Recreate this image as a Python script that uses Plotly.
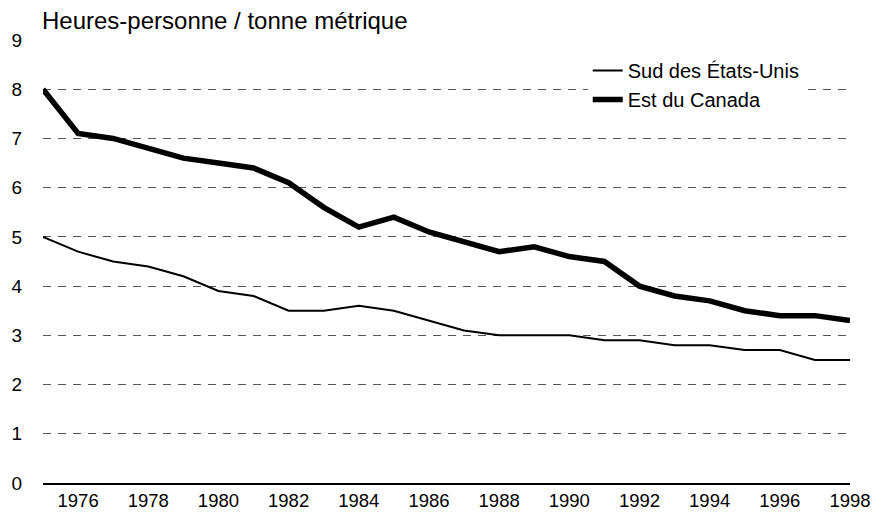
import plotly.graph_objects as go

years = list(range(1975, 1999))
sud_etats_unis = [5.0, 4.7, 4.5, 4.4, 4.2, 3.9, 3.8, 3.5, 3.5, 3.6, 3.5, 3.3,
                  3.1, 3.0, 3.0, 3.0, 2.9, 2.9, 2.8, 2.8, 2.7, 2.7, 2.5, 2.5]
est_canada = [8.0, 7.1, 7.0, 6.8, 6.6, 6.5, 6.4, 6.1, 5.6, 5.2, 5.4, 5.1,
              4.9, 4.7, 4.8, 4.6, 4.5, 4.0, 3.8, 3.7, 3.5, 3.4, 3.4, 3.3]
x_ticks = list(range(1976, 1999, 2))
y_ticks = list(range(0, 10))

font = "Liberation Sans, Arial, sans-serif"

fig = go.Figure()
fig.add_trace(go.Scatter(x=years, y=sud_etats_unis, mode="lines",
                         name="Sud des États-Unis",
                         line=dict(color="black", width=2)))
fig.add_trace(go.Scatter(x=years, y=est_canada, mode="lines",
                         name="Est du Canada",
                         line=dict(color="black", width=5.5)))

fig.update_layout(
    width=882, height=513,
    margin=dict(l=43, r=32, t=40, b=30, autoexpand=False),
    paper_bgcolor="white", plot_bgcolor="white",
    font=dict(family=font, size=19, color="black"),
    showlegend=True,
    legend=dict(x=0.675, y=0.975, xanchor="left", yanchor="top",
                bgcolor="white", borderwidth=0, itemwidth=30,
                font=dict(size=20), tracegroupgap=0),
)
fig.add_annotation(text="Heures-personne / tonne métrique",
                   xref="paper", yref="paper", x=0, y=1.044,
                   xanchor="left", yanchor="middle", showarrow=False,
                   xshift=-3, font=dict(size=24))

fig.update_xaxes(range=[1975, 1998], tickvals=x_ticks,
                 showgrid=False, zeroline=False, automargin=False,
                 showline=True, linecolor="black", linewidth=1.5,
                 ticks="", tickfont=dict(size=18.5))
fig.update_yaxes(range=[0, 9], tickvals=y_ticks, automargin=False,
                 showgrid=True, gridcolor="#555555", gridwidth=1,
                 griddash="8px,7px", zeroline=False, showline=False,
                 ticks="outside", ticklen=16, tickcolor="white",
                 tickfont=dict(size=19))

fig.write_html("out.html",
               config={"displayModeBar": False},
               post_script="document.body.style.margin='0px';")
